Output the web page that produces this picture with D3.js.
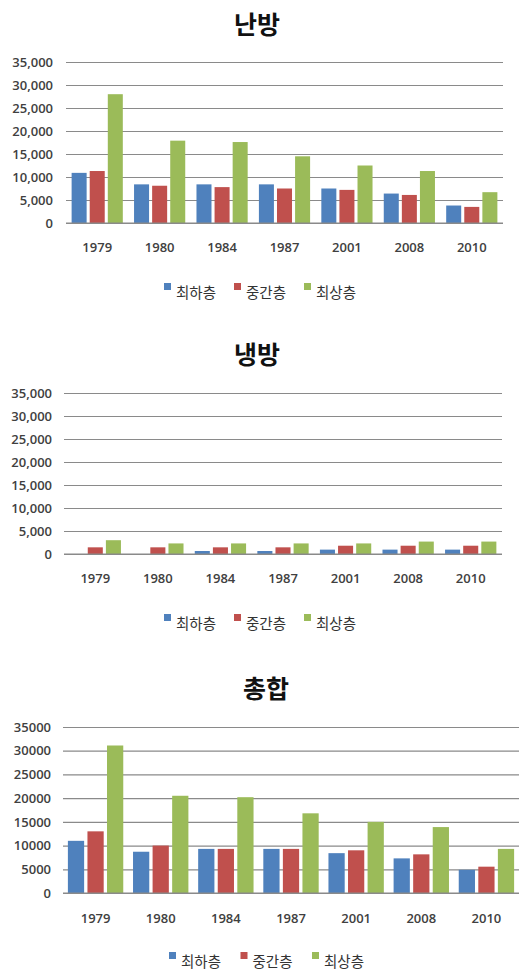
<!DOCTYPE html>
<html>
<head>
<meta charset="utf-8">
<script src="https://cdnjs.cloudflare.com/ajax/libs/d3/7.8.5/d3.min.js"></script>
<style>
  body { margin: 0; background: #ffffff; }
  svg { display: block; }
</style>
</head>
<body>
<svg width="519" height="971"></svg>
<script>
// Categories and series
const years = ["1979", "1980", "1984", "1987", "2001", "2008", "2010"];
const seriesNames = ["최하층", "중간층", "최상층"];
const colors = ["#4F81BD", "#C0504D", "#9BBB59"];
const yTicks = [0, 5000, 10000, 15000, 20000, 25000, 30000, 35000];

// 난방 (heating)
const heatLow = [10900, 8400, 8400, 8400, 7500, 6400, 3800];
const heatMid = [11300, 8100, 7800, 7500, 7200, 6100, 3500];
const heatTop = [28000, 17900, 17600, 14500, 12500, 11300, 6700];

// 냉방 (cooling)
const coolLow = [0, 0, 650, 650, 950, 950, 950];
const coolMid = [1450, 1450, 1450, 1450, 1800, 1800, 1800];
const coolTop = [3000, 2300, 2300, 2300, 2300, 2700, 2700];

// 총합 (total)
const totalLow = [11000, 8700, 9300, 9300, 8400, 7300, 4900];
const totalMid = [13000, 10000, 9300, 9300, 9000, 8150, 5550];
const totalTop = [31100, 20500, 20200, 16800, 15000, 13900, 9300];

const svg = d3.select("svg");

function drawChart(cfg) {
  const g = svg.append("g");
  const series = cfg.values;

  // Title
  g.append("text")
    .attr("x", cfg.titleX)
    .attr("y", cfg.titleY)
    .attr("text-anchor", "middle")
    .attr("dominant-baseline", "central")
    .style("font-family", "'Noto Sans CJK KR', sans-serif")
    .style("font-weight", "bold")
    .style("font-size", "25px")
    .style("fill", "#111")
    .text(cfg.title);

  const x = d3.scaleBand().domain(years).range([cfg.left, cfg.right])
    .paddingInner(cfg.groupPad).paddingOuter(cfg.groupPad / 2);
  const xInner = d3.scaleBand().domain(d3.range(3)).range([0, x.bandwidth()])
    .paddingInner(0.17);
  const y = d3.scaleLinear().domain([0, 35000]).range([cfg.bottom, cfg.top]);

  // Gridlines
  const yAxis = d3.axisLeft(y).tickValues(yTicks)
    .tickSize(-(cfg.right - cfg.left)).tickPadding(cfg.left - cfg.labelRight)
    .tickFormat(cfg.fmt);
  const ya = g.append("g")
    .attr("transform", `translate(${cfg.left},0)`)
    .call(yAxis);
  ya.select(".domain").remove();
  ya.selectAll("line").attr("stroke", "#8a8a8a").attr("stroke-width", 1.2);
  ya.selectAll("text")
    .style("font-family", "'Open Sans', sans-serif")
    .style("font-size", "13px")
    .style("font-weight", "600")
    .style("fill", "#404040");

  // Bars
  const groups = g.selectAll(".grp")
    .data(years)
    .enter().append("g")
    .attr("transform", d => `translate(${x(d)},0)`);
  groups.selectAll("rect")
    .data((d, i) => series.map((s, k) => ({ k: k, v: s[i] })))
    .enter().append("rect")
    .attr("x", d => xInner(d.k))
    .attr("width", xInner.bandwidth())
    .attr("y", d => y(d.v))
    .attr("height", d => y(0) - y(d.v))
    .attr("fill", d => colors[d.k]);

  // X axis baseline and labels
  g.append("line")
    .attr("x1", cfg.left).attr("x2", cfg.right)
    .attr("y1", y(0)).attr("y2", y(0))
    .attr("stroke", "#8a8a8a").attr("stroke-width", 1.2);
  g.selectAll(".xl")
    .data(years)
    .enter().append("text")
    .attr("x", d => x(d) + x.bandwidth() / 2)
    .attr("y", cfg.xLabelY)
    .attr("text-anchor", "middle")
    .attr("dominant-baseline", "central")
    .style("font-family", "'Open Sans', sans-serif")
    .style("font-size", "13px")
    .style("font-weight", "600")
    .style("fill", "#404040")
    .text(d => d);

  // Legend
  const leg = g.selectAll(".leg")
    .data(seriesNames)
    .enter().append("g")
    .attr("transform", (d, i) => `translate(${cfg.legendX + i * cfg.legendStep},${cfg.legendY})`);
  leg.append("rect")
    .attr("x", 0).attr("y", -8)
    .attr("width", 7).attr("height", 7)
    .attr("fill", (d, i) => colors[i]);
  leg.append("text")
    .attr("x", 12).attr("y", 0)
    .attr("dominant-baseline", "central")
    .style("font-family", "'Noto Sans CJK KR', sans-serif")
    .style("font-size", "14.5px")
    .style("fill", "#333")
    .text(d => d);
}

drawChart({
  title: "난방", titleX: 257, titleY: 23,
  values: [heatLow, heatMid, heatTop],
  left: 66, right: 503, top: 62, bottom: 223, labelRight: 53,
  groupPad: 0.18, xLabelY: 247, legendX: 164, legendY: 291, legendStep: 70,
  fmt: d3.format(",")
});

drawChart({
  title: "냉방", titleX: 257, titleY: 353,
  values: [coolLow, coolMid, coolTop],
  left: 64, right: 502, top: 393, bottom: 554, labelRight: 52,
  groupPad: 0.18, xLabelY: 578, legendX: 164, legendY: 622, legendStep: 70,
  fmt: d3.format(",")
});

drawChart({
  title: "총합", titleX: 266, titleY: 687,
  values: [totalLow, totalMid, totalTop],
  left: 63, right: 519, top: 727, bottom: 893, labelRight: 51,
  groupPad: 0.15, xLabelY: 918, legendX: 169, legendY: 960, legendStep: 71.5,
  fmt: d3.format("d")
});
</script>
</body>
</html>
